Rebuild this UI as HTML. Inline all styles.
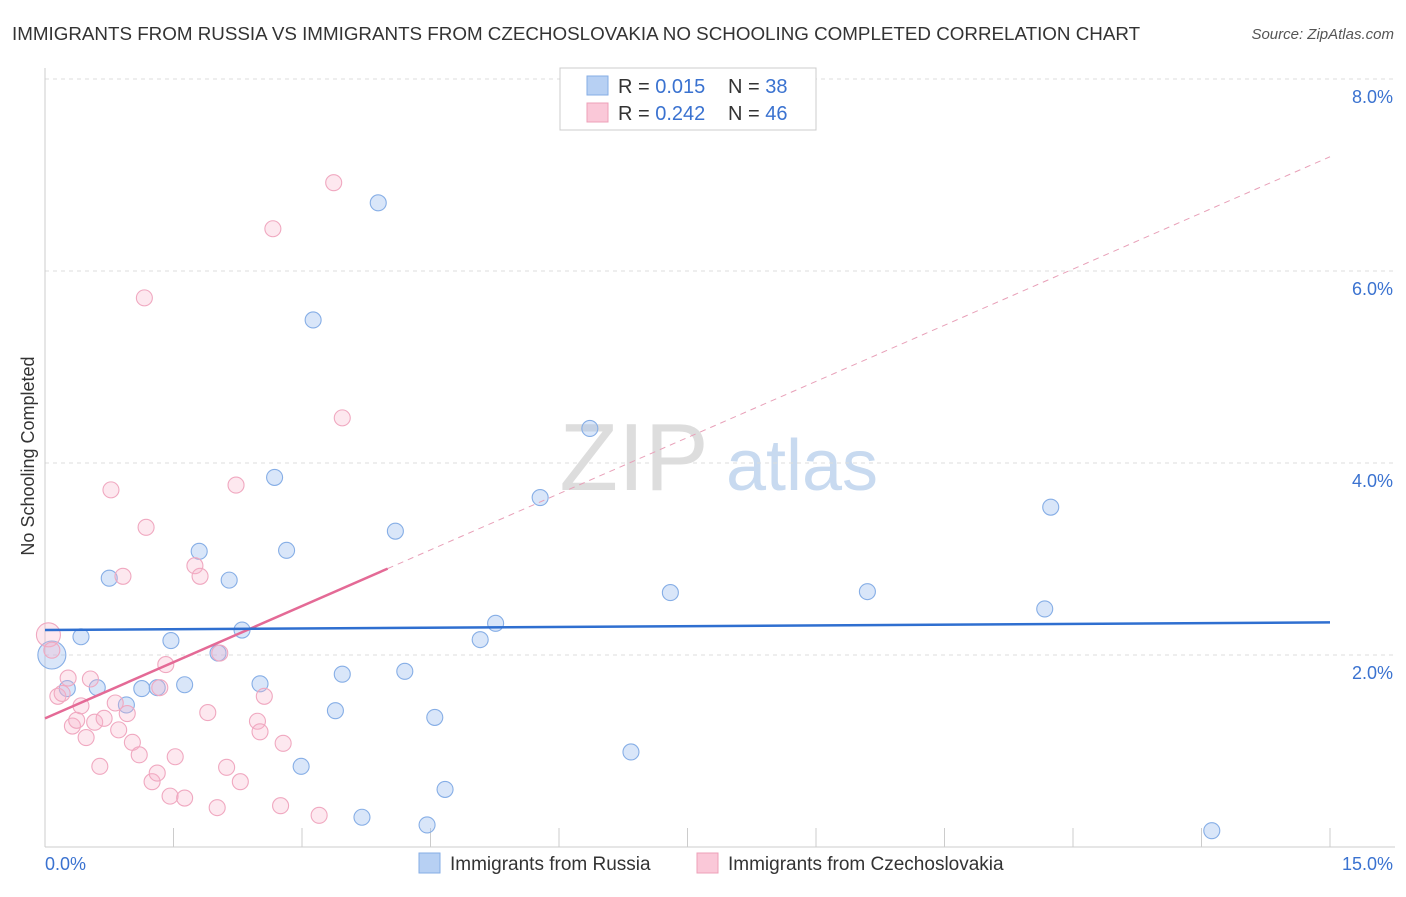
<!DOCTYPE html>
<html><head><meta charset="utf-8"><style>
body{margin:0;background:#fff;font-family:"Liberation Sans",sans-serif;}
svg text{font-family:"Liberation Sans",sans-serif;}
</style></head><body>
<svg id="c" width="1406" height="892" xmlns="http://www.w3.org/2000/svg">
<text x="12" y="40" font-size="18.8" fill="#333">IMMIGRANTS FROM RUSSIA VS IMMIGRANTS FROM CZECHOSLOVAKIA NO SCHOOLING COMPLETED CORRELATION CHART</text>
<text x="1394" y="39" font-size="15" fill="#555" font-style="italic" text-anchor="end">Source: ZipAtlas.com</text>
<text x="634" y="490" font-size="96" fill="#ddd" font-family="Liberation Serif" text-anchor="middle">ZIP</text>
<text x="802" y="490" font-size="72" fill="#c8daf0" text-anchor="middle">atlas</text>
<text transform="translate(34,456) rotate(-90)" font-size="18" fill="#333" text-anchor="middle">No Schooling Completed</text>
<g id="grid"></g><g id="marks"></g>
<rect x="560" y="68" width="256" height="62" fill="#fff" stroke="#ccc"/>
<rect x="587" y="76" width="21" height="19" fill="#b7d0f3" stroke="#86aee6"/>
<rect x="587" y="103" width="21" height="19" fill="#fac8d8" stroke="#eea0b8"/>
<text x="618" y="93" font-size="20" fill="#333">R = <tspan fill="#3a72d0">0.015</tspan><tspan x="728">N = </tspan><tspan fill="#3a72d0">38</tspan></text>
<text x="618" y="120" font-size="20" fill="#333">R = <tspan fill="#3a72d0">0.242</tspan><tspan x="728">N = </tspan><tspan fill="#3a72d0">46</tspan></text>
<text x="45" y="870" font-size="18" fill="#3a72d0">0.0%</text>
<text x="1393" y="870" font-size="18" fill="#3a72d0" text-anchor="end">15.0%</text>
<rect x="419" y="853" width="21" height="20" fill="#b7d0f3" stroke="#86aee6"/>
<text x="450" y="870" font-size="19" fill="#333">Immigrants from Russia</text>
<rect x="697" y="853" width="21" height="20" fill="#fac8d8" stroke="#eea0b8"/>
<text x="728" y="870" font-size="19" fill="#333">Immigrants from Czechoslovakia</text>
</svg>
<script>
const yTicks=[2,4,6,8];
const yTickLabels=["2.0%","4.0%","6.0%","8.0%"];
const xTicks=[0,1.5,3,4.5,6,7.5,9,10.5,12,13.5,15];
const russiaX=[0.08,0.42,0.26,0.61,0.75,0.95,1.13,1.31,1.47,1.63,1.80,2.02,2.15,2.30,2.51,2.68,2.82,2.99,3.13,3.39,3.47,3.70,3.89,4.09,4.20,4.46,4.55,4.67,5.08,5.26,5.78,6.36,6.84,7.30,9.60,11.67,11.74,13.62];
const russiaY=[2.0,2.19,1.65,1.66,2.80,1.48,1.65,1.66,2.15,1.69,3.08,2.02,2.78,2.26,1.70,3.85,3.09,0.84,5.49,1.42,1.80,0.31,6.71,3.29,1.83,0.23,1.35,0.60,2.16,2.33,3.64,4.36,0.99,2.65,2.66,2.48,3.54,0.17];
const czechX=[0.04,0.08,0.15,0.20,0.27,0.32,0.37,0.42,0.48,0.53,0.58,0.64,0.69,0.77,0.82,0.86,0.91,0.96,1.02,1.10,1.16,1.18,1.25,1.31,1.34,1.41,1.46,1.52,1.63,1.75,1.81,1.90,2.01,2.04,2.12,2.23,2.28,2.48,2.51,2.56,2.66,2.75,2.78,3.20,3.37,3.47];
const czechY=[2.21,2.05,1.57,1.60,1.76,1.26,1.32,1.47,1.14,1.75,1.30,0.84,1.34,3.72,1.50,1.22,2.82,1.39,1.09,0.96,5.72,3.33,0.68,0.77,1.66,1.90,0.53,0.94,0.51,2.93,2.82,1.40,0.41,2.02,0.83,3.77,0.68,1.31,1.20,1.57,6.44,0.43,1.08,0.33,6.92,4.47];
const russiaTrend=[2.26,2.34];
const czechTrend=[1.34,7.19];
const czechSolidEnd=4.0;
const NS="http://www.w3.org/2000/svg";
const X=v=>45+v*85.667, Y=v=>847-v*96;
function mk(t,a,p){const e=document.createElementNS(NS,t);for(const k in a)e.setAttribute(k,a[k]);p.appendChild(e);return e;}
const g=document.getElementById('grid'), m=document.getElementById('marks');
yTicks.forEach((t,i)=>{
 const l=mk('line',{x1:45,x2:1395,y1:Y(t),y2:Y(t),stroke:'#ddd','stroke-dasharray':'4,4'},g);
 
 
 const tx=mk('text',{x:1393,y:Y(t)+24,'font-size':18,fill:'#3a72d0','text-anchor':'end'},g);
 tx.textContent=yTickLabels[i];
 
 
});
const ax=mk('line',{x1:45,x2:1395,y1:847,y2:847,stroke:'#ccc'},g);


const ay=mk('line',{x1:45,x2:45,y1:68,y2:847,stroke:'#ccc'},g);


xTicks.forEach(t=>{const l=mk('line',{x1:X(t),x2:X(t),y1:828,y2:847,stroke:'#ccc'},g);
 
 });
russiaX.forEach((x,i)=>{const c=mk('circle',{cx:X(x),cy:Y(russiaY[i]),r:i==0?14:8,fill:'rgba(160,192,240,0.4)',stroke:'#86aee6','stroke-width':1.1},m);
 
 });
czechX.forEach((x,i)=>{const c=mk('circle',{cx:X(x),cy:Y(czechY[i]),r:i==0?12:8,fill:'rgba(248,180,202,0.3)',stroke:'#f0a8c0','stroke-width':1.1},m);
 
 });
const yc=v=>czechTrend[0]+(czechTrend[1]-czechTrend[0])*v/15;
const d1=mk('line',{x1:X(czechSolidEnd),y1:Y(yc(czechSolidEnd)),x2:X(15),y2:Y(yc(15)),stroke:'#e8a0b8','stroke-dasharray':'6,5','stroke-width':1},m);


const d2=mk('line',{x1:X(0),y1:Y(yc(0)),x2:X(czechSolidEnd),y2:Y(yc(czechSolidEnd)),stroke:'#e46a96','stroke-width':2.5},m);


const d3=mk('line',{x1:X(0),y1:Y(russiaTrend[0]),x2:X(15),y2:Y(russiaTrend[1]),stroke:'#2f6fd0','stroke-width':2.5},m);


</script>
</body></html>
